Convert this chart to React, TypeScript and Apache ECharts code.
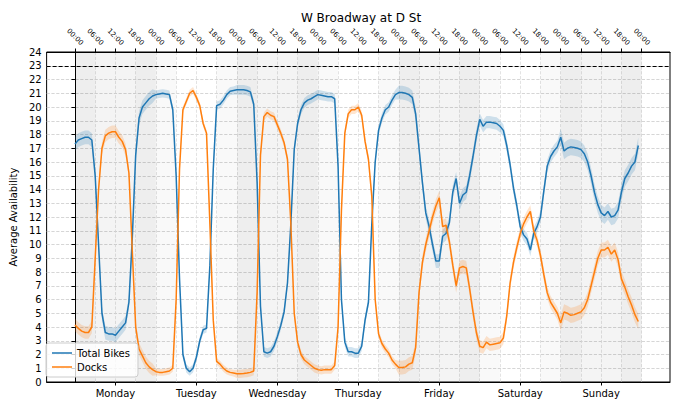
import { useEffect, useRef } from 'react'
import * as echarts from 'echarts'

// hourly averages, Monday 00:00 .. Sunday 23:00
const totalBikes = [
  17.3, 17.6, 17.7, 17.8, 17.8, 17.6, 15.0, 10.0, 5.0, 3.6, 3.5, 3.5, 3.4, 3.7, 4.0, 4.3, 5.8, 10.5, 16.5, 19.2, 20.0, 20.3, 20.6, 20.8,
  20.9, 20.95, 21.0, 20.95, 20.9, 19.8, 15.0, 7.5, 2.0, 1.0, 0.75, 1.0, 1.8, 3.0, 3.8, 3.9, 8.5, 15.5, 20.1, 20.2, 20.5, 20.9, 21.15, 21.2,
  21.25, 21.25, 21.25, 21.2, 21.1, 20.2, 14.5, 5.5, 2.2, 2.1, 2.2, 2.6, 3.3, 4.1, 5.1, 7.2, 11.5, 16.9, 18.8, 19.8, 20.3, 20.5, 20.6, 20.75,
  20.9, 20.85, 20.8, 20.75, 20.75, 20.6, 15.7, 6.0, 2.9, 2.2, 2.2, 2.1, 2.1, 2.6, 4.5, 5.8, 11.5, 16.0, 18.3, 19.2, 19.8, 20.0, 20.5, 20.9,
  21.05, 21.05, 21.0, 20.9, 20.7, 19.5, 17.0, 14.5, 12.3, 11.3, 10.0, 8.8, 8.8, 10.6, 10.8, 11.6, 13.8, 14.8, 13.0, 13.6, 13.8, 15.0, 16.4, 17.9,
  19.1, 18.6, 18.9, 18.9, 18.85, 18.8, 18.6, 18.3, 17.2, 15.8, 14.1, 12.8, 11.3, 10.7, 10.4, 9.6, 10.8, 11.3, 12.0, 13.9, 15.7, 16.4, 16.8, 17.1,
  17.8, 16.8, 17.0, 17.1, 17.05, 17.0, 16.9, 16.6, 16.0, 15.0, 13.8, 12.9, 12.3, 12.1, 12.4, 12.0, 12.1, 12.5, 13.8, 14.8, 15.2, 15.7, 16.0, 17.2,
]
const docks = [
  4.15, 3.9, 3.7, 3.6, 3.6, 4.0, 9.0, 14.0, 17.0, 17.9, 18.1, 18.2, 18.2, 17.8, 17.5, 16.9, 15.2, 9.5, 4.0, 2.4, 1.9, 1.4, 1.1, 0.9,
  0.75, 0.7, 0.7, 0.75, 0.8, 1.0, 6.0, 15.5, 19.8, 20.4, 21.0, 21.2, 20.7, 20.1, 18.8, 18.1, 11.5, 4.5, 1.5, 1.3, 1.0, 0.8, 0.7, 0.65,
  0.6, 0.6, 0.62, 0.65, 0.7, 0.8, 6.5, 16.5, 19.3, 19.6, 19.4, 19.3, 18.7, 18.1, 17.4, 16.2, 11.5, 5.0, 2.9, 2.0, 1.6, 1.4, 1.2, 1.0,
  0.9, 0.85, 0.9, 0.9, 0.9, 1.2, 4.0, 12.5, 18.1, 19.5, 19.8, 19.8, 20.0, 19.4, 17.5, 16.2, 13.5, 6.0, 3.5, 2.8, 2.4, 2.1, 1.6, 1.3,
  1.05, 1.05, 1.1, 1.3, 1.4, 2.5, 6.5, 8.7, 10.0, 11.0, 12.0, 12.8, 13.4, 11.3, 11.4, 10.2, 8.5, 7.0, 8.3, 8.4, 8.3, 6.8, 5.1, 3.6,
  2.6, 2.5, 2.9, 2.7, 2.75, 2.8, 2.85, 3.2, 4.8, 7.2, 8.7, 9.8, 10.8, 11.5, 12.0, 12.4, 11.0, 10.3, 9.2, 7.8, 6.5, 5.8, 5.4, 5.0,
  4.3, 5.1, 5.0, 4.85, 4.9, 5.0, 5.1, 5.4, 6.0, 7.0, 8.0, 9.0, 9.6, 9.6, 9.8, 9.3, 9.6, 8.9, 7.5, 6.9, 6.2, 5.6, 4.9, 4.4,
]

// half width of the confidence band, one value per day
const bikesBand = [0.5, 0.3, 0.35, 0.35, 0.5, 0.45, 0.6]
const docksBand = [0.45, 0.25, 0.3, 0.3, 0.5, 0.45, 0.55]

const dayNames = ['Monday', 'Tuesday', 'Wednesday', 'Thursday', 'Friday', 'Saturday', 'Sunday']
const hourTicks = [0, 6, 12, 18, 24, 30, 36, 42, 48, 54, 60, 66, 72, 78, 84, 90, 96, 102, 108, 114, 120, 126, 132, 138, 144, 150, 156, 162, 168]
const hourLabels = ['00:00', '06:00', '12:00', '18:00']
const shadedDays = [0, 2, 4, 6]
const nightRanges = [[0, 6], [18, 24]]
const dockLimit = 23

const FONT = 'DejaVu Sans'

function bandSeries(name: string, values: number[], band: number[], fill: string) {
  return {
    name,
    type: 'custom',
    silent: true,
    z: 2,
    data: [[0, 0]],
    renderItem: (_params: any, api: any) => {
      const upper = values.map((v, i) => api.coord([i, v + band[Math.floor(i / 24)]]))
      const lower = values.map((v, i) => api.coord([i, Math.max(0, v - band[Math.floor(i / 24)])])).reverse()
      return {
        type: 'polygon',
        shape: { points: upper.concat(lower) },
        style: { fill },
      }
    },
  }
}

export default function App() {
  const chartRef = useRef<HTMLDivElement>(null)

  useEffect(() => {
    if (!chartRef.current) return
    const chart = echarts.init(chartRef.current, undefined, { renderer: 'svg' })

    const shading: any[] = []
    shadedDays.forEach(d => {
      shading.push([{ xAxis: d * 24, itemStyle: { color: 'rgba(0,0,0,0.045)' } }, { xAxis: d * 24 + 24 }])
    })
    dayNames.forEach((_, d) => {
      nightRanges.forEach(r => {
        shading.push([{ xAxis: d * 24 + r[0], itemStyle: { color: 'rgba(0,0,0,0.025)' } }, { xAxis: d * 24 + r[1] }])
      })
    })

    const option = {
      animation: false,
      textStyle: { fontFamily: FONT },
      title: {
        text: 'W Broadway at D St',
        left: 356,
        top: 7,
        textAlign: 'center',
        textStyle: { fontSize: 12, fontWeight: 'normal', color: '#000', fontFamily: FONT },
      },
      legend: {
        data: ['Total Bikes', 'Docks'],
        orient: 'vertical',
        left: 46,
        top: 343,
        icon: 'rect',
        itemWidth: 20,
        itemHeight: 1.5,
        itemGap: 4,
        padding: [5, 8, 5, 6],
        backgroundColor: 'rgba(255,255,255,0.8)',
        borderColor: '#cccccc',
        borderWidth: 1,
        borderRadius: 3,
        textStyle: { fontSize: 10, color: '#000', fontFamily: FONT },
      },
      grid: { left: 42, right: 10, top: 52, bottom: 26, show: true, borderColor: '#000', borderWidth: 1 },
      xAxis: [
        {
          type: 'value',
          position: 'bottom',
          min: -8.4,
          max: 176.4,
          axisLine: { lineStyle: { color: '#000' } },
          axisTick: { customValues: dayNames.map((_, i) => i * 24 + 12), length: 3.5, lineStyle: { color: '#000' } },
          axisLabel: {
            customValues: dayNames.map((_, i) => i * 24 + 12),
            formatter: (v: number) => dayNames[Math.round((v - 12) / 24)],
            fontSize: 10,
            color: '#000',
            margin: 6,
            fontFamily: FONT,
          },
          splitLine: { show: false },
        },
        {
          type: 'value',
          position: 'top',
          min: -8.4,
          max: 176.4,
          axisLine: { lineStyle: { color: '#000' } },
          axisTick: { customValues: hourTicks, length: 3.5, lineStyle: { color: '#000' } },
          axisLabel: {
            customValues: hourTicks,
            formatter: (v: number) => hourLabels[Math.round(v / 6) % 4],
            rotate: 45,
            align: 'center',
            verticalAlign: 'middle',
            margin: 15,
            fontSize: 7,
            color: '#000',
            fontFamily: FONT,
          },
          splitLine: { show: true, lineStyle: { color: '#dcdcdc', type: 'dashed', width: 0.8 } },
        },
      ],
      yAxis: {
        type: 'value',
        min: 0,
        max: 24,
        interval: 1,
        name: 'Average Availability',
        nameLocation: 'middle',
        nameGap: 26,
        nameTextStyle: { fontSize: 10, color: '#000', fontFamily: FONT },
        axisLine: { show: true, lineStyle: { color: '#000' } },
        axisTick: { show: true, length: 3.5, lineStyle: { color: '#000' } },
        axisLabel: { fontSize: 10, color: '#000', margin: 5, fontFamily: FONT },
        splitLine: { show: true, lineStyle: { color: '#cccccc', type: 'dashed', width: 0.8 } },
      },
      series: [
        {
          name: 'shade',
          type: 'line',
          data: [],
          silent: true,
          z: 1,
          markArea: { silent: true, data: shading },
        },
        bandSeries('bikesBand', totalBikes, bikesBand, 'rgba(31,119,180,0.2)'),
        bandSeries('docksBand', docks, docksBand, 'rgba(255,127,14,0.2)'),
        {
          name: 'Total Bikes',
          type: 'line',
          symbol: 'none',
          z: 3,
          data: totalBikes.map((v, i) => [i, v]),
          lineStyle: { color: '#1f77b4', width: 1.5 },
          itemStyle: { color: '#1f77b4' },
          markLine: {
            silent: true,
            symbol: 'none',
            label: { show: false },
            lineStyle: { color: '#000', type: 'dashed', width: 1 },
            data: [{ yAxis: dockLimit }],
          },
        },
        {
          name: 'Docks',
          type: 'line',
          symbol: 'none',
          z: 3,
          data: docks.map((v, i) => [i, v]),
          lineStyle: { color: '#ff7f0e', width: 1.5 },
          itemStyle: { color: '#ff7f0e' },
        },
      ],
    }

    chart.setOption(option as any)

    const handleResize = () => chart.resize()
    window.addEventListener('resize', handleResize)
    return () => {
      window.removeEventListener('resize', handleResize)
      chart.dispose()
    }
  }, [])

  return (
    <div
      ref={chartRef}
      style={{ position: 'fixed', left: 0, top: 0, width: 680, height: 408, background: '#fff' }}
    />
  )
}
